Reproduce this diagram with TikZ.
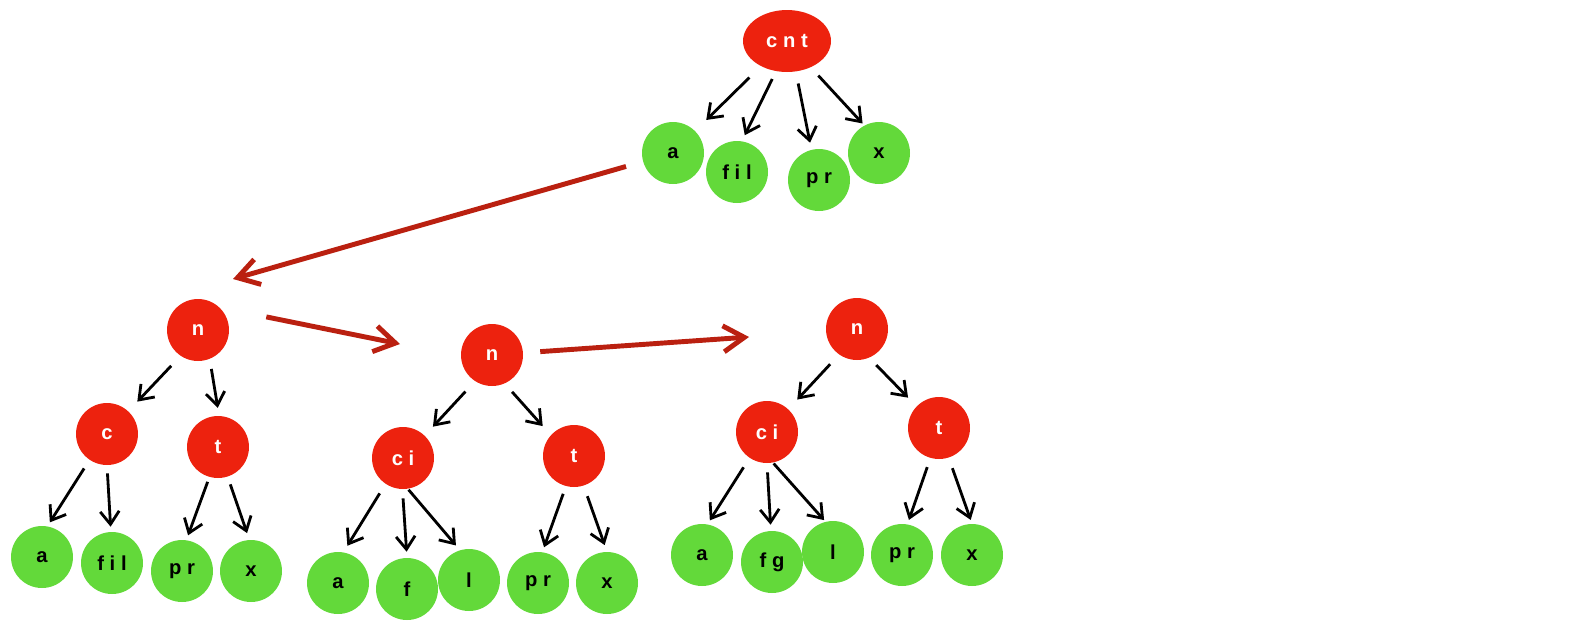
\documentclass[tikz,border=0pt]{standalone}
\usepackage{fontspec}
\setmainfont{Liberation Sans}
\newfontfamily\trackfont[LetterSpace=28]{Liberation Sans}
\usetikzlibrary{arrows.meta,shapes.geometric}
\definecolor{nodered}{RGB}{237,34,14}
\definecolor{leafgreen}{RGB}{99,217,58}
\definecolor{jumpred}{RGB}{186,32,16}
\tikzset{
	inner/.style={circle, fill=nodered, text=white, minimum size=1.24cm, inner sep=0pt, font=\trackfont\bfseries\fontsize{11.5}{14}\selectfont},
	leaf/.style={circle, fill=leafgreen, text=black, minimum size=1.24cm, inner sep=0pt, font=\trackfont\bfseries\fontsize{11.5}{14}\selectfont},
	kid/.style={black, line width=1.6pt, -{Straight Barb[length=2.6mm,width=3.8mm]}},
	jump/.style={jumpred, line width=2.8pt, -{Straight Barb[length=4.2mm,width=5.2mm]}},
}
\begin{document}
\begin{tikzpicture}[x=0.02cm, y=-0.02cm]
\useasboundingbox (0,0) rectangle (1574,630);
% top node
\node[inner, ellipse, minimum width=1.76cm, minimum height=1.24cm](cnt) at (787,41){cnt};
\node[leaf](topa) at (673,153){a};
\node[leaf](topfil) at (737,172){fil};
\node[leaf](toppr) at (819,180){pr};
\node[leaf](topx) at (879,153){x};
% left tree
\node[inner](ln) at (198,330){n};
\node[inner](lc) at (107,434){c};
\node[inner](lt) at (218,447){t};
\node[leaf](la) at (42,557){a};
\node[leaf](lfil) at (112,563){fil};
\node[leaf](lpr) at (182,571){pr};
\node[leaf](lx) at (251,571){x};
% middle tree
\node[inner](mn) at (492,355){n};
\node[inner](mci) at (403,458){ci};
\node[inner](mt) at (574,456){t};
\node[leaf](ma) at (338,583){a};
\node[leaf](mf) at (407,589){f};
\node[leaf](ml) at (469,580){l};
\node[leaf](mpr) at (538,583){pr};
\node[leaf](mx) at (607,583){x};
% right tree
\node[inner](rn) at (857,329){n};
\node[inner](rci) at (767,432){ci};
\node[inner](rt) at (939,428){t};
\node[leaf](ra) at (702,555){a};
\node[leaf](rfg) at (772,562){fg};
\node[leaf](rl) at (833,552){l};
\node[leaf](rpr) at (902,555){pr};
\node[leaf](rx) at (972,555){x};
% child arrows
\foreach \p/\pa/\c/\ca/\s/\e in {
	cnt/-136/topa/45/3.2mm/3.1mm, cnt/-110/topfil/81/1.7mm/1.3mm,
	cnt/-74/toppr/104/2.4mm/1.4mm, cnt/-48/topx/118/2.2mm/0.5mm,
	ln/-124/lc/47/2.7mm/2.6mm, ln/-68/lt/88/2mm/1.6mm,
	lc/-124/la/80/2mm/0.9mm, lc/-90/lfil/92/1.6mm/1mm,
	lt/-106/lpr/82/1mm/1mm, lt/-72/lx/93/1.6mm/1.4mm,
	mn/-123/mci/46/2.8mm/2.4mm, mn/-66/mt/138/2.2mm/2.4mm,
	mci/-124/ma/80/2.2mm/1.5mm, mci/-91/mf/90/1.8mm/1.2mm,
	mci/-81/ml/107/0.2mm/1.2mm, mt/-105/mpr/82/1.6mm/1mm,
	mt/-72/mx/90/2.2mm/1.4mm,
	rn/-125/rci/47/2.6mm/2.6mm, rn/-67/rt/136/2mm/2.4mm,
	rci/-124/ra/80/2.2mm/0.9mm, rci/-90/rfg/92/1.8mm/1.2mm,
	rci/-79/rl/104/0.2mm/0.4mm, rt/-106/rpr/80/1.9mm/0.9mm,
	rt/-72/rx/90/2.2mm/0.8mm}{
	\draw[kid, shorten <=\s, shorten >=\e](\p.\pa)--(\c.\ca);
}
% steps between trees
\coordinate (hop1) at (233,279);
\coordinate (hop2) at (400,344);
\coordinate (hop3) at (749,337);
\draw[jump, shorten <=3.5mm](topa)--(hop1);
\draw[jump, shorten <=9.5mm](ln.46)--(hop2);
\draw[jump, shorten <=3.4mm](mn)--(hop3);
\end{tikzpicture}
\end{document}
